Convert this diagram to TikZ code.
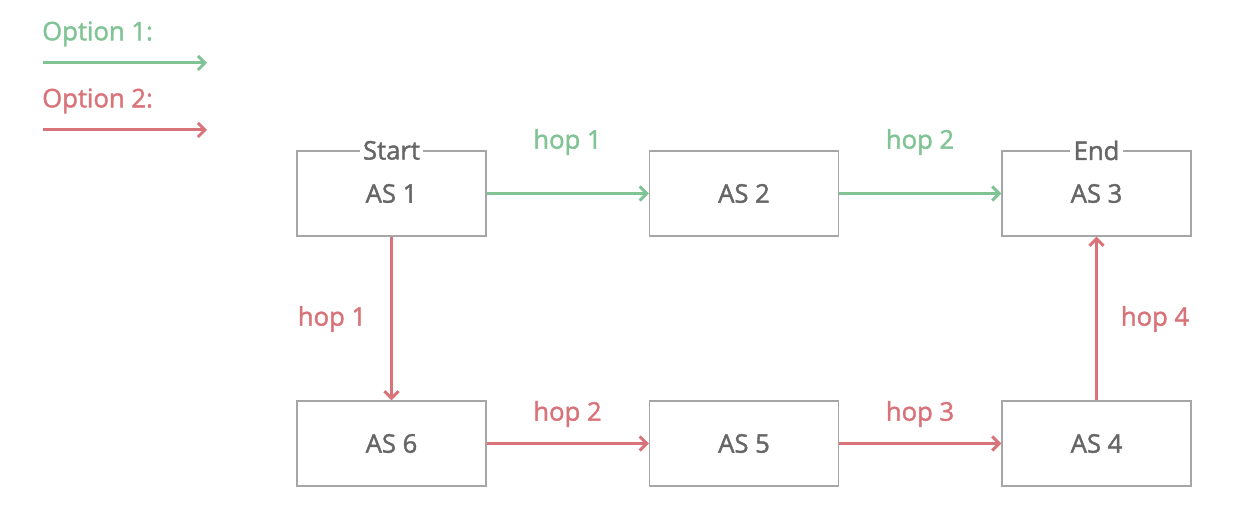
\documentclass[tikz,border=0pt]{standalone}
\usepackage{fontspec}
\setmainfont{Open Sans}[UprightFeatures={FakeBold=1.6}]
\usepackage{tikz}
\usetikzlibrary{arrows.meta}
\definecolor{optgreen}{HTML}{80C394}
\definecolor{optred}{HTML}{D9737A}
\definecolor{boxgray}{HTML}{A6A6A6}
\definecolor{textgray}{HTML}{666666}
\tikzset{
  asbox/.style={draw=boxgray,line width=0.7pt,minimum width=3.78cm,minimum height=1.7cm,
    text=textgray,font=\fontsize{14.6}{16}\selectfont},
  tag/.style={fill=white,inner xsep=2pt,inner ysep=0pt,text=textgray,font=\fontsize{14.6}{16}\selectfont},
  hop/.style={font=\fontsize{14.6}{16}\selectfont},
  green hop/.style={line width=1.7pt,draw=optgreen,-{Straight Barb[length=4pt,width=8pt]}},
  red hop/.style={line width=1.7pt,draw=optred,-{Straight Barb[length=4pt,width=8pt]}}
}

\begin{document}
\begin{tikzpicture}
      \useasboundingbox (0,0) rectangle (24.68,10.28);

      \node[asbox] (AS1) at (7.83,6.41) {AS 1};
      \node[asbox] (AS2) at (14.88,6.41) {AS 2};
      \node[asbox] (AS3) at (21.93,6.41) {AS 3};
      \node[asbox] (AS6) at (7.83,1.41) {AS 6};
      \node[asbox] (AS5) at (14.88,1.41) {AS 5};
      \node[asbox] (AS4) at (21.93,1.41) {AS 4};

      \node[tag] (start) at (AS1.north) {Start};
      \node[tag] (end) at (AS3.north) {End};

      % legend
      \node[hop,text=optgreen,anchor=west] (opt1) at (0.72,9.6) {Option 1:};
      \coordinate (g1) at (0.86,9.02);
      \coordinate (g2) at (4.14,9.02);
      \draw[green hop] (g1) -- (g2);
      \node[hop,text=optred,anchor=west] (opt2) at (0.72,8.26) {Option 2:};
      \coordinate (r1) at (0.86,7.68);
      \coordinate (r2) at (4.14,7.68);
      \draw[red hop] (r1) -- (r2);

      % option 1
      \draw[green hop] (AS1) -- (AS2);
      \draw[green hop] (AS2) -- (AS3);
      \node[hop,text=optgreen] (g hop1) at (11.35,7.44) {hop 1};
      \node[hop,text=optgreen] (g hop2) at (18.40,7.44) {hop 2};

      % option 2
      \draw[red hop] (AS1) -- (AS6);
      \draw[red hop] (AS6) -- (AS5);
      \draw[red hop] (AS5) -- (AS4);
      \draw[red hop] (AS4) -- (AS3);
      \node[hop,text=optred] (r hop1) at (6.64,3.9) {hop 1};
      \node[hop,text=optred] (r hop2) at (11.35,2.0) {hop 2};
      \node[hop,text=optred] (r hop3) at (18.40,2.0) {hop 3};
      \node[hop,text=optred] (r hop4) at (23.10,3.9) {hop 4};
     \end{tikzpicture}
\end{document}
